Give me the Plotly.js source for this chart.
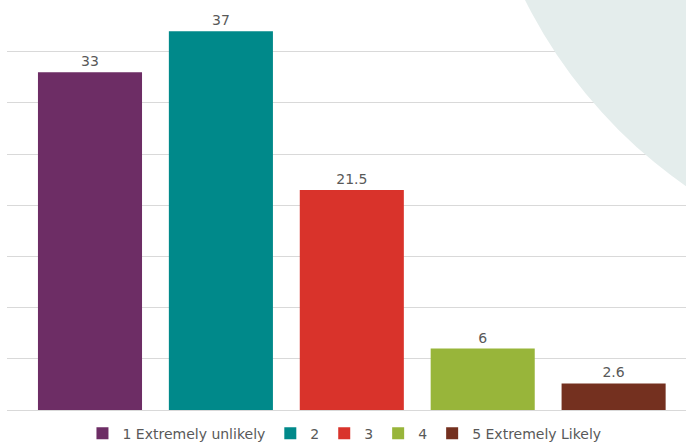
<!DOCTYPE html>
<html>
<head>
<meta charset="utf-8">
<script src="https://cdn.plot.ly/plotly-3.0.1.min.js"></script>
<style>html,body{margin:0;padding:0;background:#fff;}#chart{width:686px;height:443px;}</style>
</head>
<body>
<div id="chart"></div>
<script>
const categories = ["1 Extremely unlikely", "2", "3", "4", "5 Extremely Likely"];
const values = [33, 37, 21.5, 6, 2.6];
const labels = ["33", "37", "21.5", "6", "2.6"];
const colors = ["#6D2D65", "#00898A", "#D9332B", "#98B53A", "#74301F"];

const traces = categories.map((c, i) => ({
  type: "bar",
  name: c,
  x: [c],
  y: [values[i]],
  text: [labels[i]],
  textposition: "outside",
  cliponaxis: false,
  textfont: {family: "DejaVu Sans", size: 14, color: "#595959"},
  marker: {color: colors[i]},
  width: 0.795,
  hoverinfo: "skip"
}));

const layout = {
  width: 686, height: 443,
  margin: {l: 7, r: 0, t: 0, b: 33, autoexpand: false},
  paper_bgcolor: "#ffffff",
  plot_bgcolor: "rgba(0,0,0,0)",
  barmode: "overlay",
  showlegend: true,
  legend: {
    orientation: "h", x: 0.497, xanchor: "center",
    yref: "container", y: 0.021, yanchor: "middle",
    font: {family: "DejaVu Sans", size: 14, color: "#595959"},
    itemwidth: 30, tracegroupgap: 0
  },
  xaxis: {
    type: "category", categoryorder: "array", categoryarray: categories,
    range: [-0.634, 4.553], showticklabels: false, showgrid: false,
    zeroline: false, showline: false, ticks: ""
  },
  yaxis: {
    range: [0, 40.06], tick0: 0, dtick: 5, showticklabels: false, showgrid: true,
    gridcolor: "#D9D9D9", gridwidth: 1, zeroline: true, zerolinecolor: "#D9D9D9",
    showline: false, ticks: ""
  },
  shapes: [{
    type: "circle", xref: "x", yref: "y", layer: "between",
    x0: 2.926, x1: 10.52, y0: 13.17, y1: 110.1,
    fillcolor: "#E4EDEC", line: {width: 0}
  }]
};

Plotly.newPlot("chart", traces, layout, {staticPlot: true});
</script>
</body>
</html>
